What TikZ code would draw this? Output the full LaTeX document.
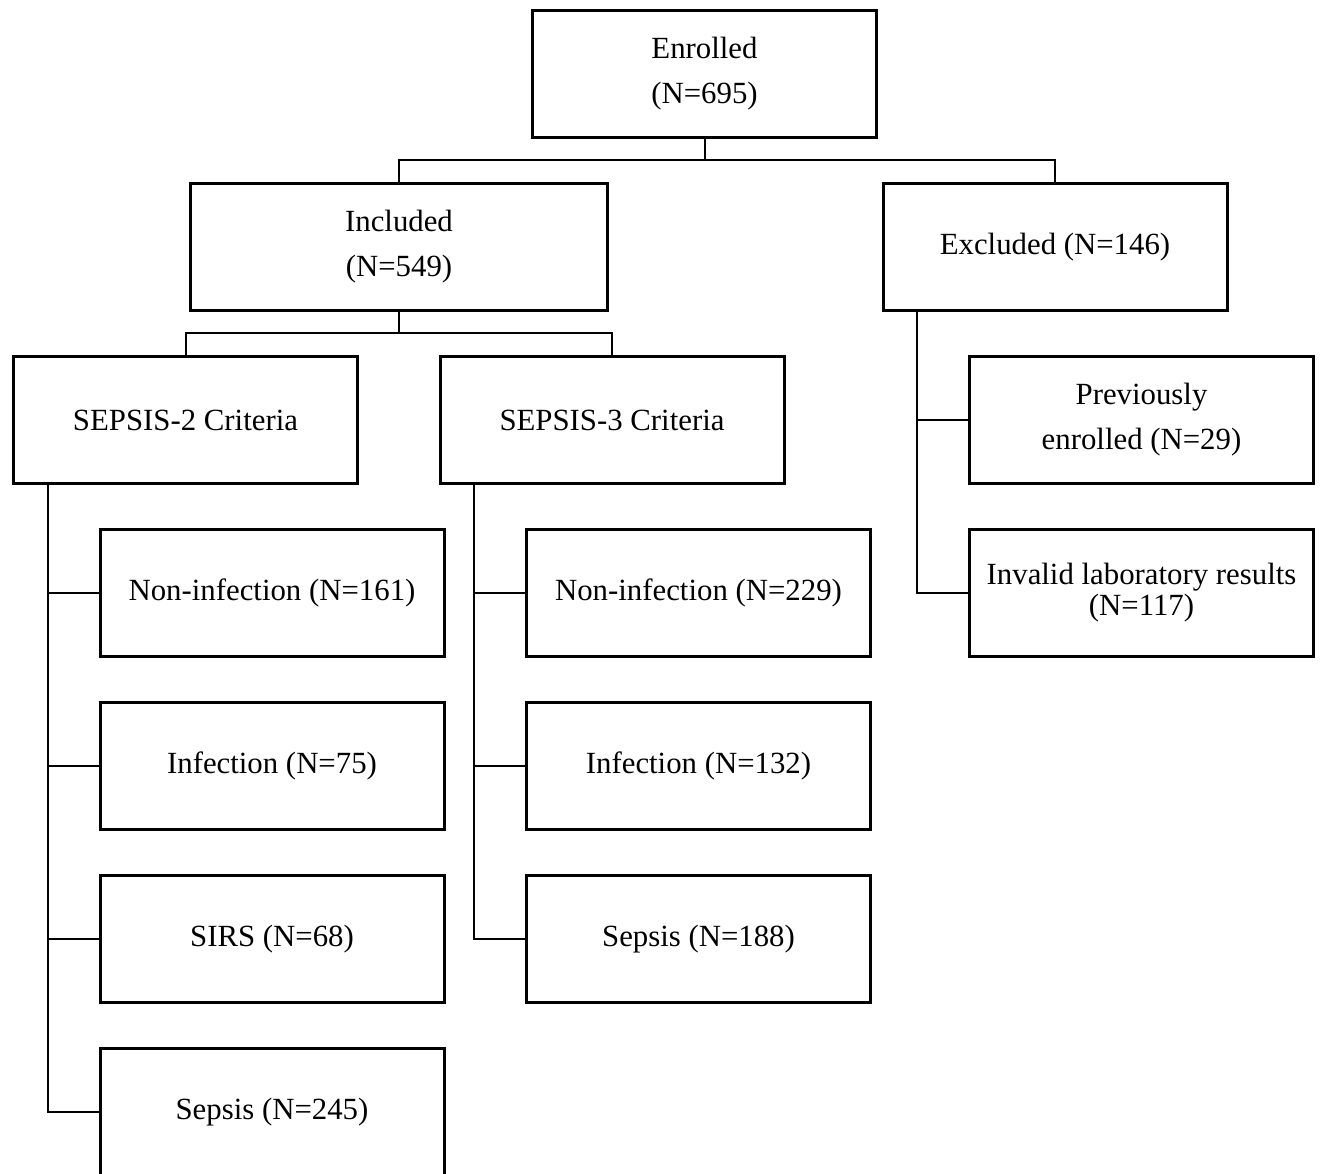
\documentclass[tikz,border=0pt]{standalone}
\usepackage{fontspec}
\setmainfont{Liberation Serif}
\usetikzlibrary{positioning}

\begin{document}
\begin{tikzpicture}[
    every node/.style={font=\fontsize{15.4}{22.5}\selectfont},
    box/.style={draw,line width=1.5pt,minimum width=172pt,minimum height=63.5pt,
                inner sep=0pt,align=center},
    wide/.style={box,minimum width=208.5pt},
    tight/.style={font=\fontsize{15.4}{15.5}\selectfont},
    conn/.style={line width=1pt},
    x=0.5pt,y=-0.5pt,
  ]
    \clip (0,0) rectangle (1321,1173);
    % top levels
    \node[box]  (enr) at (704.5,74) {Enrolled\\(N=695)};
    \node[wide] (inc) at (399,247)  {Included\\(N=549)};
    \node[box]  (exc) at (1055,247) {Excluded (N=146)};
    \node[box]  (s2)  at (185.5,420) {SEPSIS-2 Criteria};
    \node[box]  (s3)  at (612,420)   {SEPSIS-3 Criteria};
    \node[box]  (prev) at (1141.5,420) {Previously\\enrolled (N=29)};
    \node[box,tight] (inv) at (1141.5,593) {Invalid laboratory results\\(N=117)};
    % SEPSIS-2 groups
    \node[box] (s2a) at (272,593)  {Non-infection (N=161)};
    \node[box] (s2b) at (272,766)  {Infection (N=75)};
    \node[box] (s2c) at (272,939)  {SIRS (N=68)};
    \node[box] (s2d) at (272,1112) {Sepsis (N=245)};
    % SEPSIS-3 groups
    \node[box] (s3a) at (698.5,593) {Non-infection (N=229)};
    \node[box] (s3b) at (698.5,766) {Infection (N=132)};
    \node[box] (s3c) at (698.5,939) {Sepsis (N=188)};
    % joints
    \coordinate (j1) at (704.5,160);
    \coordinate (j2) at (399,333);
    \coordinate (t2) at (48,485);
    \coordinate (t3) at (474,485);
    \coordinate (te) at (917,312);
    \draw[conn] (enr.south) -- (j1);
    \draw[conn] (inc.north) |- (j1) -| (exc.north);
    \draw[conn] (inc.south) -- (j2);
    \draw[conn] (s2.north) |- (j2) -| (s3.north);
    \foreach \n in {s2a,s2b,s2c,s2d}
      \draw[conn] (t2) |- (\n.west);
    \foreach \n in {s3a,s3b,s3c}
      \draw[conn] (t3) |- (\n.west);
    \foreach \n in {prev,inv}
      \draw[conn] (te) |- (\n.west);
  \end{tikzpicture}
\end{document}
